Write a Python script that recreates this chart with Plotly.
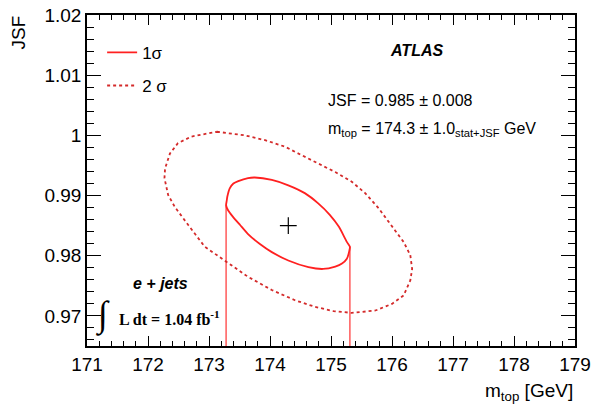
import plotly.graph_objects as go

# 2 sigma contour (m_top [GeV], JSF)
c2_mtop = [173.13, 173.37, 173.59, 173.92, 174.25, 174.52, 174.79, 175.07, 175.34, 175.56,
           175.78, 175.97, 176.05, 176.19, 176.30, 176.33, 176.30, 176.19, 176.00, 175.73,
           175.34, 175.04, 174.74, 174.41, 174.03, 173.64, 173.28, 172.93, 172.66, 172.44,
           172.33, 172.27, 172.28, 172.36, 172.49, 172.71, 173.13]
c2_jsf = [1.0006, 1.0003, 1.0000, 0.9992, 0.9981, 0.9967, 0.9953, 0.9939, 0.9923, 0.9904,
          0.9879, 0.9854, 0.9842, 0.9823, 0.9801, 0.9778, 0.9759, 0.9734, 0.9720, 0.9709,
          0.9705, 0.9708, 0.9715, 0.9726, 0.9743, 0.9765, 0.9790, 0.9815, 0.9851, 0.9881,
          0.9901, 0.9929, 0.9945, 0.9970, 0.9987, 0.9998, 1.0006]

# 1 sigma contour
c1_mtop = [173.28, 173.29, 173.30, 173.34, 173.40, 173.48, 173.64, 173.75, 174.03, 174.30,
           174.57, 174.79, 174.98, 175.13, 175.26, 175.31, 175.30, 175.26, 175.18, 175.07,
           174.87, 174.63, 174.30, 174.03, 173.84, 173.64, 173.51, 173.39, 173.31, 173.28]
c1_jsf = [0.9884, 0.9891, 0.9898, 0.9912, 0.9920, 0.9924, 0.9929, 0.9930, 0.9926, 0.9917,
          0.9904, 0.9887, 0.9868, 0.9848, 0.9823, 0.9815, 0.9808, 0.9795, 0.9787, 0.9782,
          0.9778, 0.9781, 0.9792, 0.9806, 0.9819, 0.9836, 0.9851, 0.9865, 0.9876, 0.9884]

# 1 sigma projections onto m_top (vertical lines from the axis bottom)
proj_mtop = [173.28, 175.31]
proj_top = [0.9884, 0.9815]

# best fit
best_mtop = [174.3]
best_jsf = [0.985]

x_range = [171, 179]
y_range = [0.965, 1.02]
x_ticks = [171, 172, 173, 174, 175, 176, 177, 178, 179]
x_labels = ["171", "172", "173", "174", "175", "176", "177", "178", "179"]
y_ticks = [0.97, 0.98, 0.99, 1.00, 1.01, 1.02]
y_labels = ["0.97", "0.98", "0.99", "1", "1.01", "1.02"]

SANS = "Liberation Sans, Arial, Helvetica, sans-serif"
SERIF = "Liberation Serif, Times New Roman, serif"

fig = go.Figure()

proj_x, proj_y = [], []
for xv, top in zip(proj_mtop, proj_top):
    proj_x += [xv, xv, None]
    proj_y += [y_range[0], top, None]

fig.add_trace(go.Scatter(x=proj_x, y=proj_y, mode="lines",
                         line=dict(color="#ff3030", width=1.2),
                         showlegend=False, hoverinfo="skip"))
fig.add_trace(go.Scatter(x=c1_mtop, y=c1_jsf, mode="lines", name="1σ",
                         legendgroup="a", line_shape="spline",
                         line=dict(color="#ff2020", width=1.8, smoothing=0.6)))
fig.add_trace(go.Scatter(x=c2_mtop, y=c2_jsf, mode="lines", name="2 σ",
                         legendgroup="b",
                         line=dict(color="#d42a2a", width=1.8, dash="3px,3px")))
fig.add_trace(go.Scatter(x=best_mtop, y=best_jsf, mode="markers", showlegend=False,
                         marker=dict(symbol="cross-thin", size=12,
                                     line=dict(color="black", width=1.2))))

axis_common = dict(showline=True, linecolor="black", linewidth=1.5, mirror="allticks",
                   ticks="inside", tickcolor="black", tickwidth=1, showgrid=False,
                   zeroline=False, automargin=False,
                   tickfont=dict(family=SANS, size=19, color="black"))

fig.update_xaxes(range=x_range, tickvals=x_ticks, ticktext=x_labels, ticklen=10,
                 minor=dict(ticks="inside", ticklen=5, dtick=0.2, tickcolor="black",
                            tickwidth=1, showgrid=False),
                 **axis_common)
fig.update_yaxes(range=y_range, tickvals=y_ticks, ticktext=y_labels, ticklen=14,
                 minor=dict(ticks="inside", ticklen=7, dtick=0.002, tick0=0.96,
                            tickcolor="black", tickwidth=1, showgrid=False),
                 **axis_common)

annotations = [
    dict(text="<b><i>ATLAS</i></b>", x=0.676, y=0.893, font=dict(family=SANS, size=16),
         xanchor="center", yanchor="middle"),
    dict(text="JSF = 0.985 ± 0.008", x=0.49, y=0.742, font=dict(family=SANS, size=16),
         xanchor="left", yanchor="middle"),
    dict(text="m<sub>top</sub> = 174.3 ± 1.0<sub>stat+JSF</sub> GeV", x=0.49, y=0.655,
         font=dict(family=SANS, size=16), xanchor="left", yanchor="middle"),
    dict(text="<b><i>e + jets</i></b>", x=0.1496, y=0.189, font=dict(family=SANS, size=16),
         xanchor="center", yanchor="middle"),
    dict(text="<b>L dt = 1.04 fb<sup>-1</sup></b>", x=0.0615, y=0.085,
         font=dict(family=SERIF, size=16), xanchor="left", yanchor="middle"),
    dict(text="∫", x=0.033, y=0.093, font=dict(family=SERIF, size=36),
         xanchor="center", yanchor="middle"),
    dict(text="JSF", x=-0.141, y=0.948, textangle=-90, font=dict(family=SANS, size=19),
         xanchor="center", yanchor="middle"),
    dict(text="m<sub>top</sub> [GeV]", x=1.0, y=-0.14, font=dict(family=SANS, size=19),
         xanchor="right", yanchor="middle"),
]
for a in annotations:
    a.update(xref="paper", yref="paper", showarrow=False, font_color="black")

fig.update_layout(
    template="none",
    width=592, height=405,
    margin=dict(l=87, r=17, t=15, b=59, pad=0),
    paper_bgcolor="white", plot_bgcolor="white",
    annotations=annotations,
    legend=dict(x=0.031, y=0.94, xanchor="left", yanchor="top",
                bgcolor="rgba(0,0,0,0)", tracegroupgap=8, borderwidth=0,
                font=dict(family=SANS, size=17, color="black")),
)

fig.write_html("out.html", config={"displayModeBar": False},
               post_script="document.body.style.margin='0';document.body.style.overflow='hidden';")
